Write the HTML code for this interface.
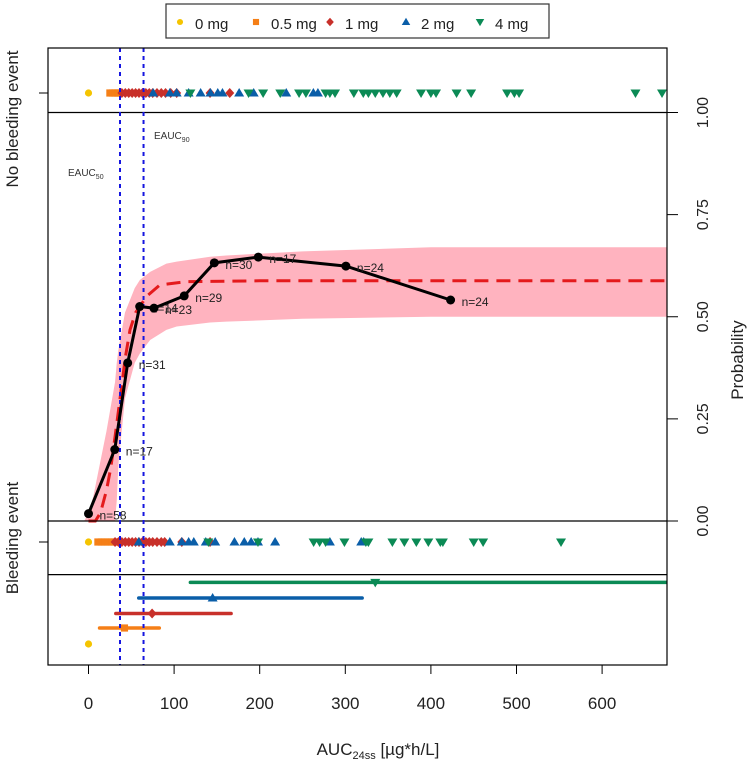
<!DOCTYPE html>
<html><head><meta charset="utf-8"><style>
body{margin:0;background:#fff;font-family:"Liberation Sans",Arial,sans-serif}
svg{display:block}
</style></head><body>
<svg id="chart" width="749" height="762" xmlns="http://www.w3.org/2000/svg" font-family="Liberation Sans, Arial, sans-serif"></svg>
<script>
// ---- data ----
const obsAUC = [0, 30.7, 45.8, 59.8, 76.5, 111.8, 147, 198.4, 300.7, 423];
const obsProb = [0.018, 0.175, 0.387, 0.525, 0.521, 0.551, 0.632, 0.646, 0.624, 0.541];
const obsN = ['n=58','n=17','n=31','n=14','n=23','n=29','n=30','n=17','n=24','n=24'];
const curveAUC = [0, 8, 14, 21, 26, 31, 35, 38.7, 43, 48.5, 55, 68, 83.5, 115, 200, 400, 700];
const curveProb = [0, 0, 0.02, 0.075, 0.13, 0.206, 0.27, 0.33, 0.4, 0.468, 0.51, 0.55, 0.578, 0.586, 0.588, 0.588, 0.588];
const bandAUC = [-5, 0, 5.6, 21, 31, 33, 35, 42.6, 54, 60, 72, 91, 103, 142, 161, 250, 400, 700];
const bandUpper = [0, 0.02, 0.06, 0.22, 0.34, 0.387, 0.42, 0.51, 0.57, 0.59, 0.61, 0.63, 0.635, 0.647, 0.65, 0.66, 0.67, 0.67];
const bandLower = [0, 0, 0, 0, 0, 0.05, 0.14, 0.3, 0.387, 0.41, 0.443, 0.468, 0.476, 0.486, 0.488, 0.495, 0.5, 0.5];
const xTicks = [0, 100, 200, 300, 400, 500, 600];
const yTicks = [0, 0.25, 0.5, 0.75, 1];
const yTickLabels = ['0.00','0.25','0.50','0.75','1.00'];
const eauc = [36.8, 64.3];
const doses = ['0 mg','0.5 mg','1 mg','2 mg','4 mg'];
const colors = ['#f5c400','#f57f17','#c8302a','#0a5ea8','#0b8a55'];
const shapes = ['circle','square','diamond','up','down'];
const noBleed = [
 [0],
 [25,28,31,34,36],
 [39,43,47,51,55,59,63,67,71,75,80,85,90,96,103,142,165],
 [75.5,95,103,117,131,142.5,151,156.5,176,193,231,262.7,268],
 [119,187,204,224,246,254,277,282,288,310,321,327,335,344,352,360,388.5,400,406,430,447,489,497.5,503,639,670]
];
const bleed = [
 [0],
 [11,15,19,23,27,31,36],
 [31,35,39,43,47,51,55,59,63,67,71,75,80,85,89,109,142],
 [58.7,95,109,117,123,137,148,170.5,182,190,198,218,282,318.6,321.5],
 [140,198,263,270,277,299,324,327,355,369,383,397,411,414,450,461,552]
];
const sumLow = [0, 12.9, 31.9, 58.7, 119];
const sumMed = [0, 42, 74.3, 145, 335];
const sumHigh = [0, 82.7, 166.6, 319.7, 800];

// ---- scales ----
const L=48,R=667,T=48,B=665;
const X=v=>88.5+v*0.856;
const Y=p=>521-p*408.5;
const svg=document.getElementById('chart');
const NS='http://www.w3.org/2000/svg';
function mk(tag,attrs,parent){const e=document.createElementNS(NS,tag);for(const k in attrs)e.setAttribute(k,attrs[k]);(parent||svg).appendChild(e);return e;}
function marker(shape,x,y,c,s,g){
  s=s||1;let e;
  if(shape==='circle')e=mk('circle',{cx:x,cy:y,r:3.6*s,fill:c},g);
  else if(shape==='square')e=mk('rect',{x:x-3.6*s,y:y-3.6*s,width:7.2*s,height:7.2*s,fill:c},g);
  else if(shape==='diamond')e=mk('polygon',{points:`${x},${y-5*s} ${x+4.5*s},${y} ${x},${y+5*s} ${x-4.5*s},${y}`,fill:c},g);
  else if(shape==='up')e=mk('polygon',{points:`${x},${y-5*s} ${x+5*s},${y+3.5*s} ${x-5*s},${y+3.5*s}`,fill:c},g);
  else e=mk('polygon',{points:`${x},${y+5*s} ${x+5*s},${y-3.5*s} ${x-5*s},${y-3.5*s}`,fill:c},g);
  return e;
}
const clip=mk('clipPath',{id:'pc'});mk('rect',{x:L,y:T,width:R-L,height:B-T},clip);
const plot=mk('g',{'clip-path':'url(#pc)'});



// band
let pts=bandAUC.map((a,i)=>X(a)+','+Y(bandUpper[i]));
for(let i=bandAUC.length-1;i>=0;i--)pts.push(X(bandAUC[i])+','+Y(bandLower[i]));
const band=mk('polygon',{points:pts.join(' '),fill:'#ffb3bf'},plot);


// model curve
const cur=mk('polyline',{points:curveAUC.map((a,i)=>X(a)+','+Y(curveProb[i])).join(' '),fill:'none',stroke:'#e41a1c','stroke-width':3,'stroke-dasharray':'14,8'},plot);



// separator lines
[112.5,521,574.6].forEach(y=>mk('line',{x1:L,x2:R,y1:y,y2:y,stroke:'#000','stroke-width':1.2},plot));

// strips
const gs=mk('g',{},plot);


doses.forEach((d,k)=>{
  noBleed[k].forEach(a=>{const m=marker(shapes[k],X(a),93,colors[k],1,gs);});
  bleed[k].forEach(a=>{const m=marker(shapes[k],X(a),542,colors[k],1,gs);});
});
// summary bars
const sumY=[644,628,613.5,598,582.4];
doses.forEach((d,k)=>{
  if(k>0){const l=mk('line',{x1:X(sumLow[k]),x2:X(sumHigh[k]),y1:sumY[k],y2:sumY[k],stroke:colors[k],'stroke-width':3.5,'stroke-linecap':'round'},plot);
  
  }
  const m=marker(shapes[k],X(sumMed[k]),sumY[k],colors[k],1,plot);
  
  
});

// EAUC lines
eauc.forEach((a,i)=>{const l=mk('line',{x1:X(a),x2:X(a),y1:T,y2:B,stroke:'#1515e0','stroke-width':2,'stroke-dasharray':'4,4'},plot);

});
const t50=mk('text',{x:68,y:176,'font-size':10,fill:'#333'});t50.innerHTML='EAUC<tspan font-size="7" dy="3">50</tspan>';

const t90=mk('text',{x:154,y:139,'font-size':10,fill:'#333'});t90.innerHTML='EAUC<tspan font-size="7" dy="3">90</tspan>';


// observed line
const ol=mk('polyline',{points:obsAUC.map((a,i)=>X(a)+','+Y(obsProb[i])).join(' '),fill:'none',stroke:'#000','stroke-width':3},plot);


obsAUC.forEach((a,i)=>{
  const c=mk('circle',{cx:X(a),cy:Y(obsProb[i]),r:4.5,fill:'#000'},plot);
  
  
  const t=mk('text',{x:X(a)+11,y:Y(obsProb[i])+6,'font-size':12,fill:'#222'},plot);t.textContent=obsN[i];
  
  
});

// frame
const fr=mk('rect',{x:L,y:T,width:R-L,height:B-T,fill:'none',stroke:'#000','stroke-width':1.2});

// x axis
xTicks.forEach(v=>{mk('line',{x1:X(v),x2:X(v),y1:B,y2:B+9,stroke:'#000'});
  const t=mk('text',{x:X(v),y:709,'font-size':17,'text-anchor':'middle',fill:'#222'});t.textContent=v;
  });
// right y axis
yTicks.forEach((v,i)=>{mk('line',{x1:R,x2:R+11,y1:Y(v),y2:Y(v),stroke:'#000'});
  const t=mk('text',{x:0,y:0,'font-size':16,'text-anchor':'middle',fill:'#222',transform:`translate(708,${Y(v)}) rotate(-90)`});t.textContent=yTickLabels[i];
  });
// left ticks
[93,542].forEach(y=>mk('line',{x1:L-9,x2:L,y1:y,y2:y,stroke:'#000'}));
// axis titles
const xt=mk('text',{x:378,y:755,'font-size':17,'text-anchor':'middle',fill:'#222'});xt.innerHTML='AUC<tspan font-size="11" dy="4">24ss</tspan><tspan dy="-4"> [µg*h/L]</tspan>';

const yt=mk('text',{x:0,y:0,'font-size':17,'text-anchor':'middle',fill:'#222',transform:'translate(743,360) rotate(-90)'});yt.textContent='Probability';

const nb=mk('text',{x:0,y:0,'font-size':17,'text-anchor':'middle',fill:'#222',transform:'translate(18,119) rotate(-90)'});nb.textContent='No bleeding event';

const be=mk('text',{x:0,y:0,'font-size':17,'text-anchor':'middle',fill:'#222',transform:'translate(18,538) rotate(-90)'});be.textContent='Bleeding event';


// legend
const lg=mk('g',{});


mk('rect',{x:166,y:4,width:383,height:34,fill:'#fff',stroke:'#333','stroke-width':1.2},lg);
const lx=[180,256,330,406,480];
doses.forEach((d,k)=>{
  const e=mk('g',{},lg);
  
  
  marker(shapes[k],lx[k],22,colors[k],0.85,e);
  const t=mk('text',{x:lx[k]+15,y:29,'font-size':15,fill:'#222'},e);t.textContent=d;
});
</script>
</body></html>
